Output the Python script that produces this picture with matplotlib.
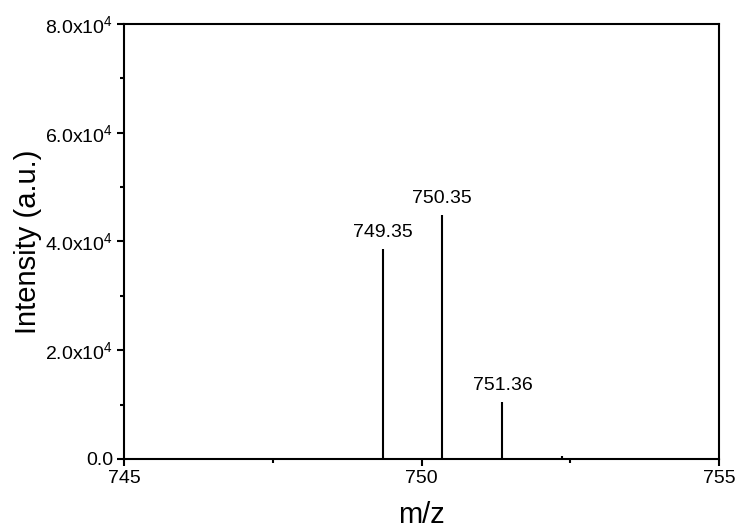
import matplotlib
matplotlib.use('Agg')
import matplotlib.pyplot as plt
from matplotlib.ticker import FuncFormatter, MultipleLocator

plt.rcParams['font.family'] = ['Liberation Sans', 'DejaVu Sans']
plt.rcParams['mathtext.fontset'] = 'custom'
plt.rcParams['mathtext.rm'] = 'Liberation Sans'
plt.rcParams['mathtext.it'] = 'Liberation Sans:italic'

# Peak data
mz = [749.35, 750.35, 751.36, 752.36]
intensity = [38600, 44900, 10500, 500]
peak_labels = ['749.35', '750.35', '751.36', '']

fig = plt.figure(figsize=(7.4, 5.3), dpi=100)
ax = fig.add_axes([0.1676, 0.134, 0.804, 0.8207])

ax.vlines(mz, 0, intensity, color='black', linewidth=1.5)
for x, y, lab in zip(mz, intensity, peak_labels):
    if lab:
        ax.text(x, y + 1500, lab, ha='center', va='bottom', fontsize=14)

ax.set_xlim(745, 755)
ax.set_ylim(0, 80000)
ax.xaxis.set_major_locator(MultipleLocator(5))
ax.xaxis.set_minor_locator(MultipleLocator(2.5))
ax.yaxis.set_major_locator(MultipleLocator(20000))
ax.yaxis.set_minor_locator(MultipleLocator(10000))

def yfmt(v, pos):
    if v == 0:
        return '0.0'
    return f'{v / 1e4:.1f}x10$^4$'

ax.yaxis.set_major_formatter(FuncFormatter(yfmt))
ax.tick_params(which='major', direction='out', length=5, width=1.5, labelsize=14, pad=3)
ax.tick_params(which='minor', direction='out', length=3, width=1.5)
for s in ax.spines.values():
    s.set_linewidth(1.5)

ax.set_xlabel('m/z', fontsize=21, labelpad=10)
ax.set_ylabel('Intensity (a.u.)', fontsize=21, labelpad=2)

fig.savefig('out.png', dpi=100)
